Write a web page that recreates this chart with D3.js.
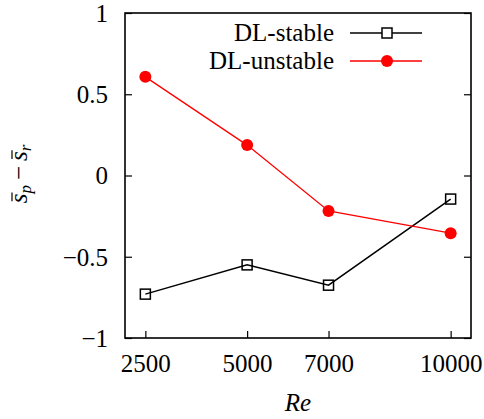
<!DOCTYPE html>
<html>
<head>
<meta charset="utf-8">
<script src="https://cdn.jsdelivr.net/npm/d3@7"></script>
<style>
  body { margin: 0; background: #fff; }
</style>
</head>
<body>
<div id="chart"></div>
<script>
// data
var reynolds = [2500, 5000, 7000, 10000];
var dlStable = [-0.73, -0.55, -0.675, -0.145];
var dlUnstable = [0.607, 0.187, -0.218, -0.355];
var yTicks = [-1, -0.5, 0, 0.5, 1];
var seriesNames = ["DL-stable", "DL-unstable"];

var FONT = "Liberation Serif";
var FS = 25;

// sizes
var W = 484, H = 419;
var margin = {top: 13, right: 13, bottom: 81, left: 125};
var w = W - margin.left - margin.right;
var h = H - margin.top - margin.bottom;

var svgBG = d3.select("#chart").append("svg").attr("width", W).attr("height", H)
  .attr("font-family", FONT);
var svg = svgBG.append("g").attr("transform", "translate(" + margin.left + "," + margin.top + ")");

var x = d3.scaleLinear().domain([2000, 10500]).range([0, w]);
var y = d3.scaleLinear().domain([-1, 1]).range([h, 0]);

var fmt = d3.format("~");

// bottom axis
var gx = svg.append("g").attr("transform", "translate(0," + h + ")")
  .call(d3.axisBottom(x).tickValues(reynolds).tickSize(-7).tickPadding(16).tickFormat(d3.format("d")));
// left axis
var gy = svg.append("g")
  .call(d3.axisLeft(y).tickValues(yTicks).tickSize(-7).tickPadding(17).tickFormat(fmt));
// right side ticks, no labels
var gr = svg.append("g").attr("transform", "translate(" + w + ",0)")
  .call(d3.axisRight(y).tickValues(yTicks).tickSize(-7).tickFormat(""));

[gx, gy, gr].forEach(function(g){
  g.attr("font-family", FONT).attr("font-size", FS);
  g.select(".domain").remove();
  g.selectAll(".tick line").attr("stroke", "#000").attr("stroke-width", 1.2);
  g.selectAll(".tick text").attr("fill", "#000");
});
gy.selectAll(".tick text").attr("dy", "0.33em");

// frame
svg.append("rect").attr("width", w).attr("height", h)
  .attr("fill", "none").attr("stroke", "#000").attr("stroke-width", 1.6);

var line = d3.line()
  .x(function(d, i){ return x(reynolds[i]); })
  .y(function(d){ return y(d); });

// DL-stable
svg.append("path").datum(dlStable).attr("d", line)
  .attr("fill", "none").attr("stroke", "#000").attr("stroke-width", 1.5);
svg.selectAll(".sq").data(dlStable).enter().append("rect")
  .attr("x", function(d, i){ return x(reynolds[i]) - 5; })
  .attr("y", function(d){ return y(d) - 5; })
  .attr("width", 10).attr("height", 10)
  .attr("fill", "none").attr("stroke", "#000").attr("stroke-width", 1.5);

// DL-unstable
svg.append("path").datum(dlUnstable).attr("d", line)
  .attr("fill", "none").attr("stroke", "#ff0000").attr("stroke-width", 1.3);
svg.selectAll(".dot").data(dlUnstable).enter().append("circle")
  .attr("cx", function(d, i){ return x(reynolds[i]); })
  .attr("cy", function(d){ return y(d); })
  .attr("r", 6).attr("fill", "#ff0000");

// legend
var legend = svgBG.append("g");
var rowsY = [33, 61];
seriesNames.forEach(function(name, i){
  var yy = rowsY[i];
  legend.append("text").attr("x", 334).attr("y", yy).attr("dy", "0.33em")
    .attr("text-anchor", "end").attr("font-size", FS).text(name);
  legend.append("line").attr("x1", 350).attr("x2", 422).attr("y1", yy).attr("y2", yy)
    .attr("stroke", i == 0 ? "#000" : "#ff0000").attr("stroke-width", i == 0 ? 1.5 : 1.3);
  if (i == 0) {
    legend.append("rect").attr("x", 382).attr("y", yy - 5).attr("width", 10).attr("height", 10)
      .attr("fill", "#fff").attr("stroke", "#000").attr("stroke-width", 1.5);
  } else {
    legend.append("circle").attr("cx", 387).attr("cy", yy).attr("r", 6).attr("fill", "#ff0000");
  }
});

// x label
svgBG.append("text").attr("x", 298).attr("y", 411).attr("text-anchor", "middle")
  .attr("font-size", FS).attr("font-style", "italic").text("Re");

// y label: s̄_p − s̄_r, pieces laid out one after another
var yl = svgBG.append("g").attr("transform", "translate(27,174) rotate(-90)");
var parts = [
  {t: "s", it: true, fs: FS, dy: 0, bar: true},
  {t: "p", it: true, fs: 17, dy: 4},
  {t: "\u2009\u2212\u2009", it: false, fs: FS, dy: 0},
  {t: "s", it: true, fs: FS, dy: 0, bar: true},
  {t: "r", it: true, fs: 17, dy: 4}
];
var pos = 0;
parts.forEach(function(p){
  p.node = yl.append("text").attr("y", p.dy).attr("font-size", p.fs)
    .attr("font-style", p.it ? "italic" : "normal").text(p.t);
  p.len = p.node.node().getComputedTextLength() || p.fs * 0.45;
  p.x = pos;
  pos += p.len;
});
var x0 = -pos / 2;
parts.forEach(function(p){
  p.node.attr("x", x0 + p.x);
  if (p.bar) {
    yl.append("line").attr("x1", x0 + p.x + 2).attr("x2", x0 + p.x + p.len + 1)
      .attr("y1", -15).attr("y2", -15).attr("stroke", "#000").attr("stroke-width", 1.2);
  }
});
</script>
</body>
</html>
